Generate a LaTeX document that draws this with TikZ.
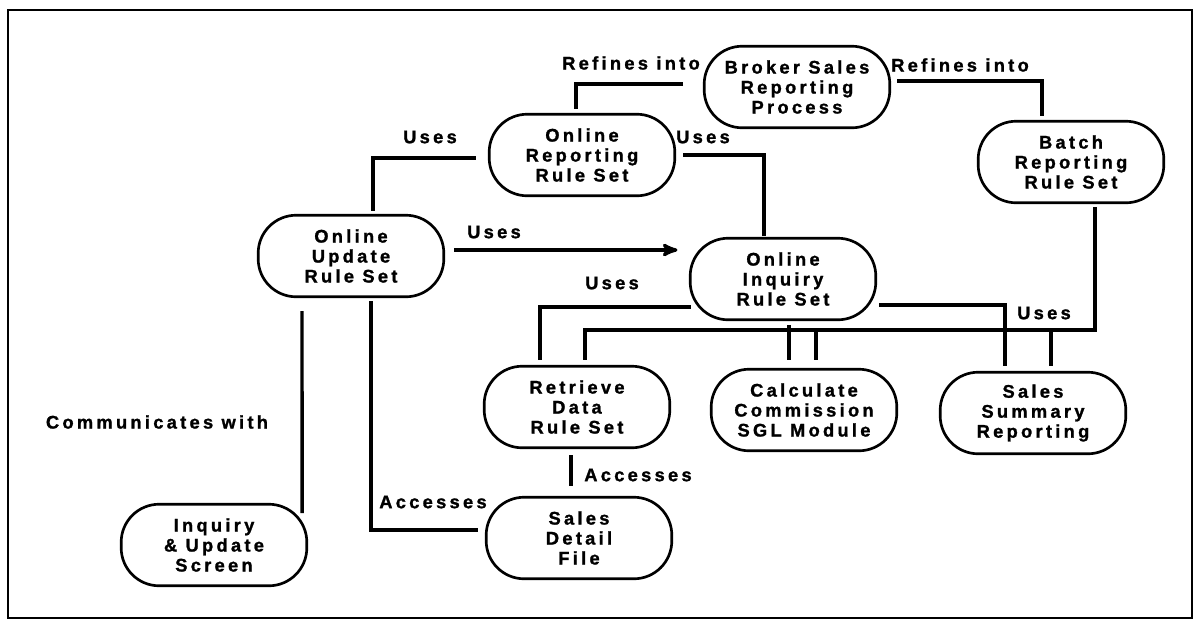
\documentclass[tikz,border=0pt]{standalone}
\usepackage{fontspec}
\newfontfamily\chartfont[LetterSpace=18,BoldFeatures={FakeBold=1.3}]{Liberation Sans}
\usetikzlibrary{arrows,calc}

\begin{document}
\begin{tikzpicture}[
  x=0.025cm, y=-0.025cm,
  font=\chartfont\bfseries\fontsize{13}{14.2}\selectfont,
  process/.style={draw,line width=1.9pt,rounded corners=27pt,minimum width=132pt,minimum height=58pt,inner sep=1pt},
  tag/.style={inner sep=0pt},
  link/.style={line width=2.4pt},
  arrow/.style={link,->,>=stealth',shorten >=1pt},
  every node/.style={align=center}]

  \useasboundingbox (0,0) rectangle (1195,621);
  \draw[line width=1.5pt] (8,10) rectangle (1192,618);

  % Position the nodes at their places on the sheet
  \node[process] (broker)   at (797,87)  {Broker Sales\\Reporting\\Process};
  \node[process] (onrep)    at (582,155) {Online\\Reporting\\Rule Set};
  \node[process] (batch)    at (1071,162) {Batch\\Reporting\\Rule Set};
  \node[process] (update)   at (351,256) {Online\\Update\\Rule Set};
  \node[process] (inquiry)  at (783,279) {Online\\Inquiry\\Rule Set};
  \node[process] (retrieve) at (577,407) {Retrieve\\Data\\Rule Set};
  \node[process] (calc)     at (804,410) {Calculate\\Commission\\SGL Module};
  \node[process] (summary)  at (1033,413) {Sales\\Summary\\Reporting};
  \node[process] (detail)   at (579,538) {Sales\\Detail\\File};
  \node[process] (screen)   at (214,545) {Inquiry\\\& Update\\Screen};

  % Labels of the connectors
  \node[tag] (lref1) at (631,63)  {Refines into};
  \node[tag] (lref2) at (960,65)  {Refines into};
  \node[tag] (luse1) at (430,137) {Uses};
  \node[tag] (luse2) at (703,137) {Uses};
  \node[tag] (luse3) at (494,232) {Uses};
  \node[tag] (luse4) at (612,283) {Uses};
  \node[tag] (luse5) at (1044,313) {Uses};
  \node[tag] (lacc1) at (433,502) {Accesses};
  \node[tag] (lacc2) at (638,475) {Accesses};
  \node[tag] (lcom)  at (157,422) {Communicates with};

  % Draw the connectors between the nodes
  \draw[link,shorten <=14pt,shorten >=3pt] ($(broker.west)+(0,-3)$) -| ($(onrep.north)+(-6,0)$);
  \draw[link,shorten >=3pt] ($(broker.east)+(6,-6)$) -| ($(batch.north)+(-29,0)$);
  \draw[link] ($(onrep.west)+(-12,3)$) -| ($(update.north)+(22,-3)$);
  \draw[link] ($(onrep.east)+(7,0)$) -| ($(inquiry.north)+(-19,-1)$);
  \draw[arrow] ($(update.east)+(9,-6)$) -- ($(inquiry.west)+(-10,-29)$);
  \draw[link] ($(inquiry.west)+(2,28)$) -| ($(retrieve.north)+(-37,-5)$);
  \draw[link] ($(inquiry.south)+(6,4)$) -- ($(calc.north)+(-15,-8)$);
  \draw[link] ($(inquiry.east)+(2,26)$) -| ($(summary.north)+(-28,-5)$);
  \draw[link] ($(batch.south)+(24,3)$) |- ($(retrieve.north)+(8,-35)$) -- ($(retrieve.north)+(8,-5)$);
  \draw[link] ($(calc.north)+(12,-36)$) -- ($(calc.north)+(12,-8)$);
  \draw[link] ($(summary.north)+(18,-40)$) -- ($(summary.north)+(18,-5)$);
  \draw[link] ($(update.south)+(20,3)$) |- ($(detail.west)+(-7,-8)$);
  \draw[link] ($(update.south)+(-49,13)$) -- ($(screen.east)+(-6,-32)$);
  \draw[link] ($(retrieve.south)+(-6,6)$) -- ($(detail.north)+(-8,-10)$);

\end{tikzpicture}
\end{document}
